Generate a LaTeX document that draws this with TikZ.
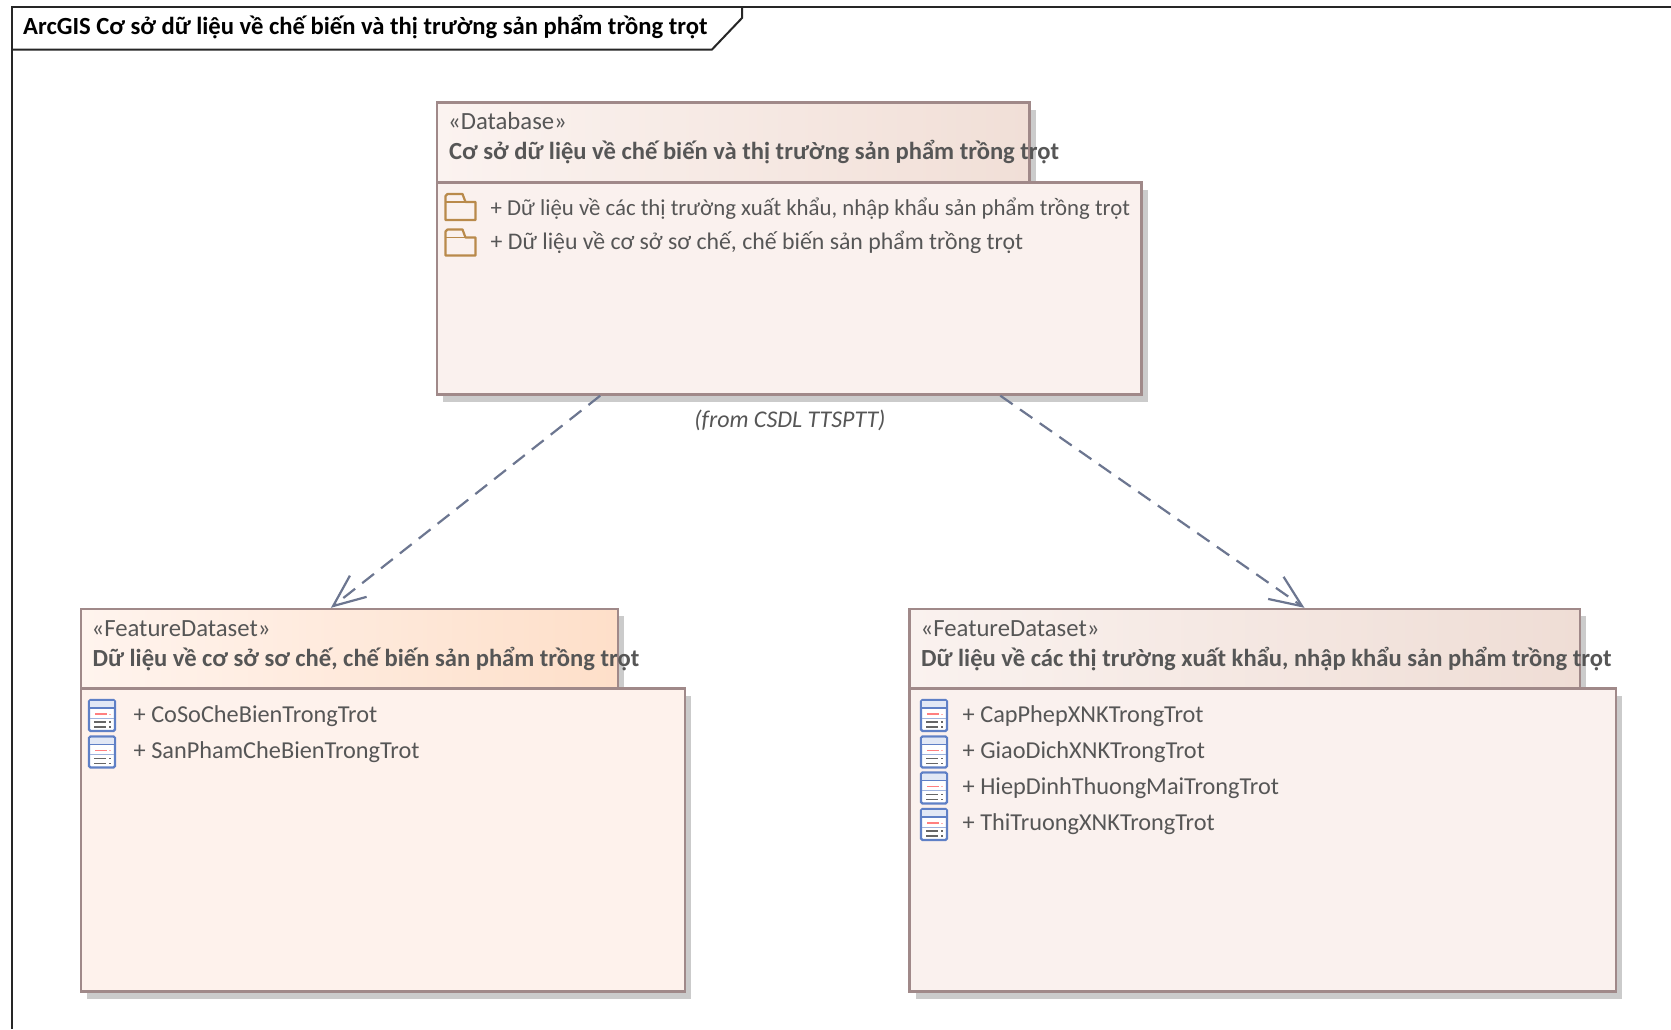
\documentclass[tikz,border=0pt]{standalone}
\usepackage{fontspec}
\setmainfont{Carlito}
\usetikzlibrary{calc,shadows,arrows.meta}
\definecolor{edgeC}{HTML}{A08989}
\definecolor{txtC}{HTML}{565656}
\definecolor{shadeC}{HTML}{CBCBCB}
\definecolor{arrowC}{HTML}{6C7690}
\definecolor{dbA}{HTML}{FBF3F0}
\definecolor{dbB}{HTML}{F1DFD7}
\definecolor{lfA}{HTML}{FFF4EE}
\definecolor{lfB}{HTML}{FEDFC9}
\definecolor{rtA}{HTML}{FAF2EF}
\definecolor{rtB}{HTML}{EFDDD5}
\definecolor{bodyA}{HTML}{FAF1EE}
\definecolor{bodyB}{HTML}{FEF2EC}
\definecolor{folderC}{HTML}{B98A4B}
\definecolor{iconC}{HTML}{5F80C6}
\newcommand\boxnode[6]{% name, x1,y1,x2,y2, style
  \node[#6,minimum width=#4pt-#2pt,minimum height=#5pt-#3pt] (#1) at ({(#2+#4)/2},{(#3+#5)/2}) {};}
\newcommand\foldericon[2]{%
  \begin{scope}[shift={(#1,#2)}]
    \draw[folderC,line width=2.2pt,line join=round,fill=bodyA] (0,8) -- (0,2) -- (2,0) -- (17,0) -- (20,8) -- (30,8) -- (30,26) -- (0,26) -- cycle;
    \draw[folderC,line width=1.6pt] (0,8) -- (20,8);
  \end{scope}}
\newcommand\tableicon[2]{%
  \begin{scope}[shift={(#1,#2)}]
    \draw[iconC,line width=2.2pt,rounded corners=1.5pt,fill=white] (0,0) rectangle (26,31);
    \fill[iconC!18] (1,1) rectangle (25,7);
    \draw[iconC,line width=1.2pt] (1,8) -- (25,8);
    \draw[red!50,line width=1.2pt] (6,14) -- (18,14);
    \draw[red!30,line width=1pt] (20,14) -- (22,14);
    \draw[iconC!60,line width=1pt] (1,18) -- (25,18);
    \draw[black!60,line width=1.8pt] (5,22) -- (17,22) (20,22) -- (22,22) (5,27) -- (17,27) (20,27) -- (22,27);
  \end{scope}}
\tikzset{
  boxbase/.style={draw=edgeC,line width=2.4pt,inner sep=0pt,
    drop shadow={shadow xshift=6pt,shadow yshift=-7pt,opacity=1,fill=shadeC}},
  dbhead/.style={boxbase,left color=dbA,right color=dbB},
  lfhead/.style={boxbase,left color=lfA,right color=lfB},
  rthead/.style={boxbase,left color=rtA,right color=rtB},
  dbbody/.style={boxbase,fill=bodyA},
  lfbody/.style={boxbase,fill=bodyB},
  stereo/.style={anchor=base west,inner sep=0pt,text=txtC,font=\fontsize{24.7}{28}\selectfont},
  elname/.style={anchor=base west,inner sep=0pt,text=txtC,font=\fontsize{24.6}{28}\selectfont\bfseries},
  item/.style={anchor=base west,inner sep=0pt,text=txtC,font=\fontsize{24.3}{28}\selectfont},
  itemviet/.style={anchor=base west,inner sep=0pt,text=txtC,font=\fontsize{23.8}{28}\selectfont},
  itemtight/.style={anchor=base west,inner sep=0pt,text=txtC,font=\fontsize{22.8}{28}\selectfont},
  dep/.style={arrowC,line width=2.2pt,dash pattern=on 15pt off 9pt,-{Straight Barb[length=32pt,width=27pt,line width=2.2pt]}}
}
\begin{document}
\begin{tikzpicture}[x=1pt,y=-1pt]
\useasboundingbox (0,0) rectangle (1671,1029);
\fill[white] (0,0) rectangle (1671,1029);
% frame
\draw[black!85,line width=2pt] (1671,6.5) -- (11.5,6.5) -- (11.5,1029);
\draw[black!85,line width=2pt] (11.5,49.5) -- (712,49.5) -- (742,18) -- (742,6.5);
\node[anchor=base west,inner sep=0pt,font=\fontsize{24.65}{28}\selectfont\bfseries] (title) at (23,34) {ArcGIS Cơ sở dữ liệu về chế biến và thị trường sản phẩm trồng trọt};
% database
\boxnode{dbh}{437}{102.5}{1029.5}{182.5}{dbhead}
\boxnode{dbb}{437}{182.5}{1141.5}{394.5}{dbbody}
\node[stereo] (dbs) at (448,129) {«Database»};
\node[elname] (dbn) at (449,159) {Cơ sở dữ liệu về chế biến và thị trường sản phẩm trồng trọt};
\foldericon{445.5}{194}
\foldericon{445.5}{229.5}
\node[itemtight] (db1) at (490.5,215) {+ Dữ liệu về các thị trường xuất khẩu, nhập khẩu sản phẩm trồng trọt};
\node[itemviet] (db2) at (490.5,249.5) {+ Dữ liệu về cơ sở sơ chế, chế biến sản phẩm trồng trọt};
\node[anchor=base,inner sep=0pt,text=txtC,font=\fontsize{24}{28}\selectfont\itshape] (from) at (790,427) {(from CSDL TTSPTT)};
% left dataset
\boxnode{lh}{81}{609}{618}{688.5}{lfhead}
\boxnode{lb}{81}{688.5}{685}{991.5}{lfbody}
\node[stereo] (ls) at (91.5,636) {«FeatureDataset»};
\node[elname] (ln) at (92.5,666) {Dữ liệu về cơ sở sơ chế, chế biến sản phẩm trồng trọt};
\tableicon{89}{700}
\tableicon{89}{736.5}
\node[item] (l1) at (133.5,722) {+ CoSoCheBienTrongTrot};
\node[item] (l2) at (133.5,758.5) {+ SanPhamCheBienTrongTrot};
% right dataset
\boxnode{rh}{909.5}{609}{1580}{688.5}{rthead}
\boxnode{rb}{909.5}{688.5}{1616}{991.5}{dbbody}
\node[stereo] (rs) at (920.5,636) {«FeatureDataset»};
\node[elname] (rn) at (921,666) {Dữ liệu về các thị trường xuất khẩu, nhập khẩu sản phẩm trồng trọt};
\tableicon{921}{700}
\tableicon{921}{736.5}
\tableicon{921}{772.5}
\tableicon{921}{809}
\node[item] (r1) at (962.5,722) {+ CapPhepXNKTrongTrot};
\node[item] (r2) at (962.5,758.5) {+ GiaoDichXNKTrongTrot};
\node[item] (r3) at (962.5,794.5) {+ HiepDinhThuongMaiTrongTrot};
\node[item] (r4) at (962.5,830.5) {+ ThiTruongXNKTrongTrot};
% connectors
\draw[dep] ($(dbb.south west)!0.2326!(dbb.south east)$) -- ($(lh.north west)!0.4655!(lh.north east)$);
\draw[dep] ($(dbb.south west)!0.7986!(dbb.south east)$) -- ($(rh.north west)!0.5887!(rh.north east)$);
\end{tikzpicture}
\end{document}
